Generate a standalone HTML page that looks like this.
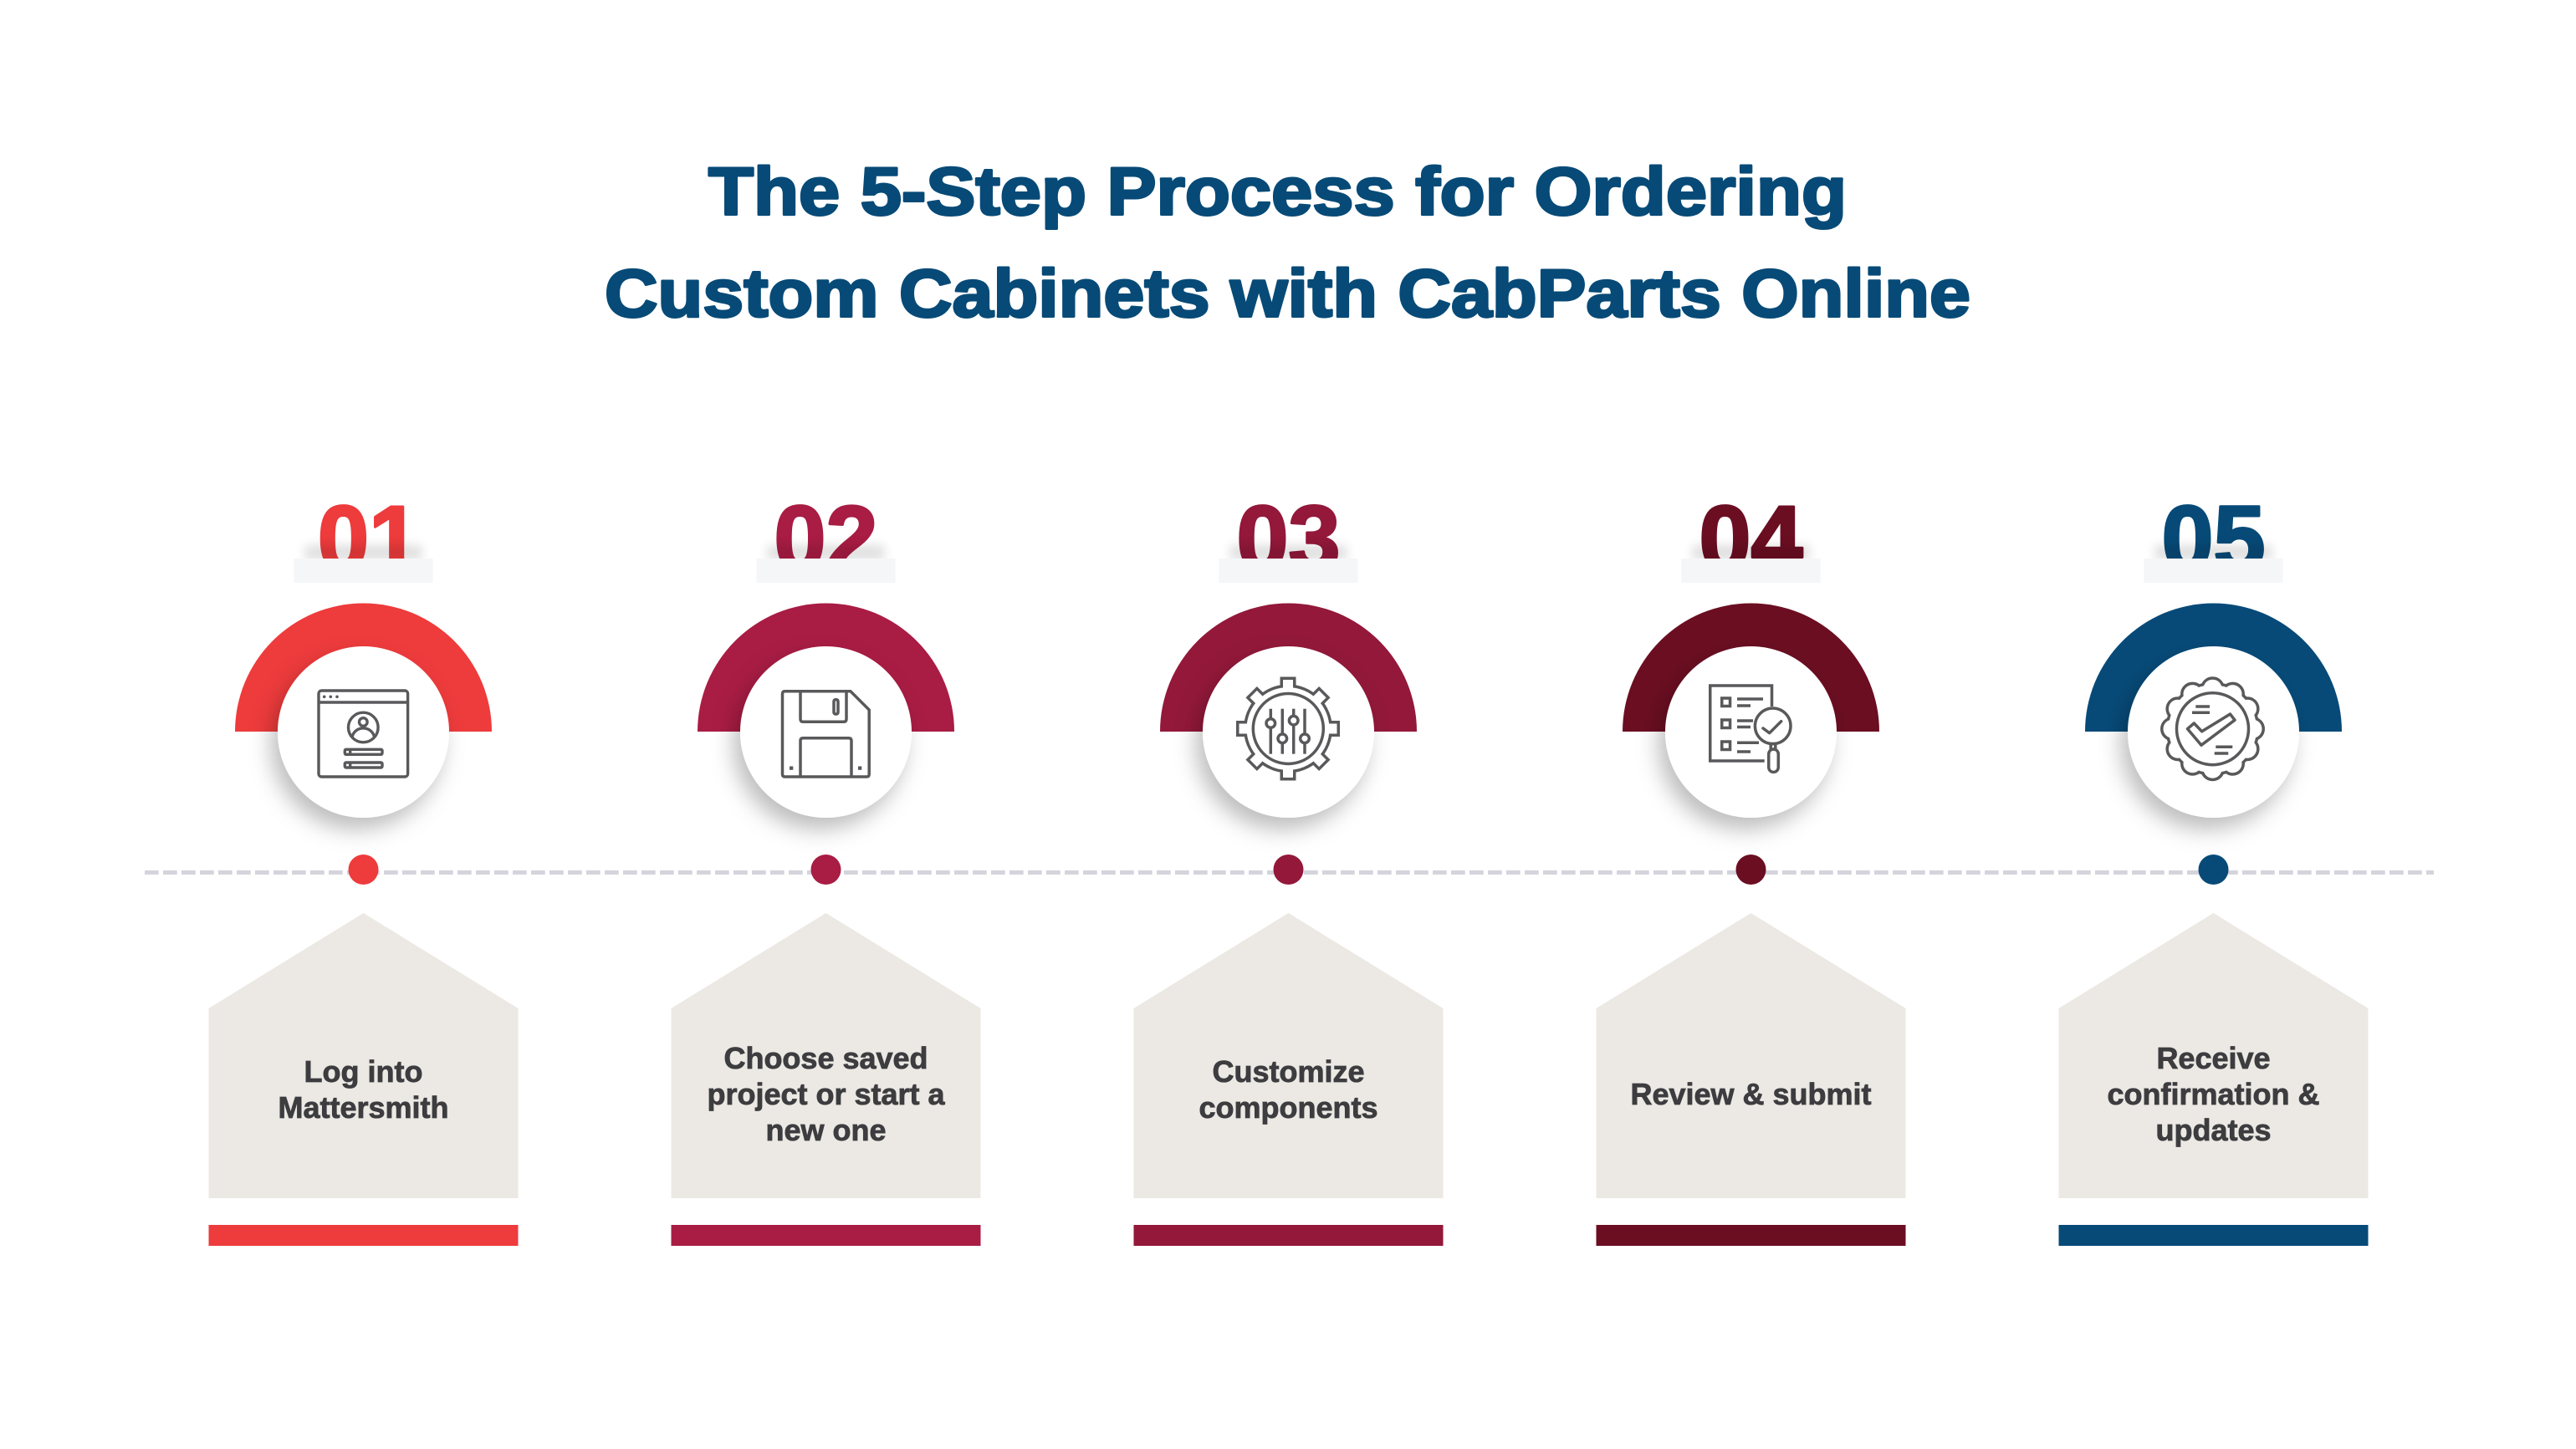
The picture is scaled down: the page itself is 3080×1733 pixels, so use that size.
<!DOCTYPE html>
<html><head><meta charset="utf-8"><style>
html,body{margin:0;padding:0;background:#fff;}
svg{display:block;}
text{font-family:"Liberation Sans",Arial,sans-serif;font-weight:bold;}
</style></head><body>
<svg width="3080" height="1733" viewBox="0 0 3080 1733" xmlns="http://www.w3.org/2000/svg">
<defs>
<filter id="sh" x="-40%" y="-40%" width="180%" height="180%">
<feDropShadow dx="-8" dy="14" stdDeviation="13" flood-color="#000" flood-opacity="0.26"/>
</filter>
<filter id="bl" x="-50%" y="-100%" width="200%" height="300%"><feGaussianBlur stdDeviation="6"/></filter>
</defs>
<rect width="3080" height="1733" fill="#fff"/>

<!-- Title -->
<g fill="#074a77" stroke="#074a77" stroke-width="3" stroke-linejoin="round">
<text x="847" y="256.5" font-size="81" textLength="1361" lengthAdjust="spacingAndGlyphs">The 5-Step Process for Ordering</text>
<text x="723" y="378.5" font-size="81" textLength="1633" lengthAdjust="spacingAndGlyphs">Custom Cabinets with CabParts Online</text>
</g>

<!-- Numbers -->
<g font-size="110" stroke-width="3" stroke-linejoin="round">
<text x="441" y="682" text-anchor="middle" fill="#ee3b3c" stroke="#ee3b3c">01</text>
<text x="987.5" y="682" text-anchor="middle" fill="#a91c44" stroke="#a91c44" textLength="124" lengthAdjust="spacingAndGlyphs">02</text>
<text x="1540.5" y="682" text-anchor="middle" fill="#93183a" stroke="#93183a" textLength="124" lengthAdjust="spacingAndGlyphs">03</text>
<text x="2093.5" y="682" text-anchor="middle" fill="#6b0e22" stroke="#6b0e22" textLength="124" lengthAdjust="spacingAndGlyphs">04</text>
<text x="2646.5" y="682" text-anchor="middle" fill="#074a78" stroke="#074a78" textLength="124" lengthAdjust="spacingAndGlyphs">05</text>
</g>
<g fill="#000" opacity="0.12" filter="url(#bl)">
<rect x="364.5" y="652" width="140" height="18"/>
<rect x="917.5" y="652" width="140" height="18"/>
<rect x="1470.5" y="652" width="140" height="18"/>
<rect x="2023.5" y="652" width="140" height="18"/>
<rect x="2576.5" y="652" width="140" height="18"/>
</g>
<g fill="#f5f6f8">
<rect x="351.5" y="668" width="166" height="29"/>
<rect x="904.5" y="668" width="166" height="29"/>
<rect x="1457.5" y="668" width="166" height="29"/>
<rect x="2010.5" y="668" width="166" height="29"/>
<rect x="2563.5" y="668" width="166" height="29"/>
</g>

<!-- Arcs -->
<path d="M281 875 A153.5 153.5 0 0 1 588 875 Z" fill="#ee3b3c"/>
<path d="M834 875 A153.5 153.5 0 0 1 1141 875 Z" fill="#a91c44"/>
<path d="M1387 875 A153.5 153.5 0 0 1 1694 875 Z" fill="#93183a"/>
<path d="M1940 875 A153.5 153.5 0 0 1 2247 875 Z" fill="#6b0e22"/>
<path d="M2493 875 A153.5 153.5 0 0 1 2800 875 Z" fill="#074a78"/>

<!-- White circles -->
<g fill="#fff" filter="url(#sh)">
<circle cx="434.5" cy="875.5" r="102.5"/>
<circle cx="987.5" cy="875.5" r="102.5"/>
<circle cx="1540.5" cy="875.5" r="102.5"/>
<circle cx="2093.5" cy="875.5" r="102.5"/>
<circle cx="2646.5" cy="875.5" r="102.5"/>
</g>

<!-- Icon 1: browser login -->
<g fill="none" stroke="#59595b" stroke-width="3.4">
<rect x="381" y="826" width="106.6" height="103" rx="3.5"/>
<line x1="381" y1="840" x2="487.6" y2="840"/>
<circle cx="434.3" cy="870" r="17.8"/>
<circle cx="434.3" cy="863.5" r="4.8"/>
<path d="M421 881.5 C424 867.4 444.6 867.4 447.6 881.5"/>
<rect x="412.3" y="896.3" width="44.7" height="6" rx="1.5"/>
<rect x="412.3" y="912" width="44.7" height="6" rx="1.5"/>
<line x1="418.7" y1="896.3" x2="418.7" y2="902.3"/>
<line x1="418.7" y1="912" x2="418.7" y2="918"/>
</g>
<g fill="#59595b">
<circle cx="387.7" cy="833.3" r="1.8"/><circle cx="395.3" cy="833.3" r="1.8"/><circle cx="403" cy="833.3" r="1.8"/>
</g>

<!-- Icon 2: floppy -->
<g transform="translate(877,765)">
<g fill="none" stroke="#59595b" stroke-width="3.5" stroke-linejoin="round">
<path d="M61.5 61.8 H140 L162.2 84 V161 Q162.2 164 159.2 164 H61.5 Q58.5 164 58.5 161 V64.8 Q58.5 61.8 61.5 61.8 Z"/>
<path d="M80 61.8 V95 Q80 98.3 83.3 98.3 H131.7 Q135 98.3 135 95 V61.8"/>
<rect x="120" y="71.7" width="5" height="17.3" rx="2"/>
<path d="M80 164 V121 Q80 117.8 83.2 117.8 H137.8 Q141 117.8 141 121 V164"/>
</g>
<rect x="67" y="151.5" width="4.3" height="4.3" fill="#59595b"/>
<rect x="149" y="151.5" width="4.3" height="4.3" fill="#59595b"/>
</g>

<!-- Icon 3: gear with sliders -->
<g transform="translate(1430,765)">
<g fill="#59595b" stroke="#59595b" stroke-width="7">
<circle cx="110" cy="106.5" r="49.5"/>
<g transform="translate(110,106.5)">
<rect x="-6" y="-58.5" width="12" height="14"/>
<rect x="-6" y="-58.5" width="12" height="14" transform="rotate(45)"/>
<rect x="-6" y="-58.5" width="12" height="14" transform="rotate(90)"/>
<rect x="-6" y="-58.5" width="12" height="14" transform="rotate(135)"/>
<rect x="-6" y="-58.5" width="12" height="14" transform="rotate(180)"/>
<rect x="-6" y="-58.5" width="12" height="14" transform="rotate(225)"/>
<rect x="-6" y="-58.5" width="12" height="14" transform="rotate(270)"/>
<rect x="-6" y="-58.5" width="12" height="14" transform="rotate(315)"/>
</g>
</g>
<g fill="#fff">
<circle cx="110" cy="106.5" r="49.5"/>
<g transform="translate(110,106.5)">
<rect x="-6" y="-58.5" width="12" height="14"/>
<rect x="-6" y="-58.5" width="12" height="14" transform="rotate(45)"/>
<rect x="-6" y="-58.5" width="12" height="14" transform="rotate(90)"/>
<rect x="-6" y="-58.5" width="12" height="14" transform="rotate(135)"/>
<rect x="-6" y="-58.5" width="12" height="14" transform="rotate(180)"/>
<rect x="-6" y="-58.5" width="12" height="14" transform="rotate(225)"/>
<rect x="-6" y="-58.5" width="12" height="14" transform="rotate(270)"/>
<rect x="-6" y="-58.5" width="12" height="14" transform="rotate(315)"/>
</g>
</g>
<g fill="none" stroke="#59595b" stroke-width="3.5">
<circle cx="110.3" cy="106.5" r="42"/>
<line x1="89.3" y1="82.7" x2="89.3" y2="136.7"/>
<line x1="103.3" y1="82.7" x2="103.3" y2="136.7"/>
<line x1="116.7" y1="82.7" x2="116.7" y2="136.7"/>
<line x1="130" y1="82.7" x2="130" y2="136.7"/>
</g>
<g fill="#fff" stroke="#59595b" stroke-width="3.5">
<circle cx="89.3" cy="100" r="5.3"/>
<circle cx="103.3" cy="118.3" r="5.3"/>
<circle cx="116.7" cy="96.7" r="5.3"/>
<circle cx="130" cy="118.3" r="5.3"/>
</g>
</g>

<!-- Icon 4: checklist with magnifier -->
<g transform="translate(1983,765)" fill="none" stroke="#59595b" stroke-width="3.5">
<path d="M126.7 145 H61.75 V55 H135.5 V80"/>
<rect x="75.75" y="70" width="9.8" height="9.5"/>
<rect x="75.75" y="96" width="9.8" height="9.5"/>
<rect x="75.75" y="122" width="9.8" height="9.5"/>
<line x1="94" y1="71" x2="125" y2="71"/>
<line x1="94" y1="79" x2="110" y2="79"/>
<line x1="94" y1="97" x2="113" y2="97"/>
<line x1="94" y1="104.5" x2="110" y2="104.5"/>
<line x1="94" y1="123.3" x2="120" y2="123.3"/>
<line x1="94" y1="134" x2="110" y2="134"/>
<circle cx="136.7" cy="103.3" r="21.3" fill="#fff"/>
<polyline points="125,106 132.7,111.7 146.7,97.7" stroke-linejoin="round" stroke-linecap="round"/>
<rect x="134.2" y="124.6" width="5.6" height="6.5"/>
<rect x="131.75" y="131" width="11.5" height="27.5" rx="5.75"/>
</g>

<!-- Icon 5: badge check -->
<g transform="translate(2536,765)">
<g fill="#59595b" stroke="#59595b" stroke-width="7">
<circle cx="109.5" cy="106.7" r="52.5"/>
<circle cx="109.5" cy="58.7" r="11"/><circle cx="133.5" cy="65.13" r="11"/><circle cx="151.07" cy="82.7" r="11"/>
<circle cx="157.5" cy="106.7" r="11"/><circle cx="151.07" cy="130.7" r="11"/><circle cx="133.5" cy="148.27" r="11"/>
<circle cx="109.5" cy="154.7" r="11"/><circle cx="85.5" cy="148.27" r="11"/><circle cx="67.93" cy="130.7" r="11"/>
<circle cx="61.5" cy="106.7" r="11"/><circle cx="67.93" cy="82.7" r="11"/><circle cx="85.5" cy="65.13" r="11"/>
</g>
<g fill="#fff">
<circle cx="109.5" cy="106.7" r="52.5"/>
<circle cx="109.5" cy="58.7" r="11"/><circle cx="133.5" cy="65.13" r="11"/><circle cx="151.07" cy="82.7" r="11"/>
<circle cx="157.5" cy="106.7" r="11"/><circle cx="151.07" cy="130.7" r="11"/><circle cx="133.5" cy="148.27" r="11"/>
<circle cx="109.5" cy="154.7" r="11"/><circle cx="85.5" cy="148.27" r="11"/><circle cx="67.93" cy="130.7" r="11"/>
<circle cx="61.5" cy="106.7" r="11"/><circle cx="67.93" cy="82.7" r="11"/><circle cx="85.5" cy="65.13" r="11"/>
</g>
<g fill="none" stroke="#59595b" stroke-width="3.5" stroke-linejoin="round">
<circle cx="109.5" cy="106.7" r="43"/>
<polygon points="79.5,106.7 87.3,100 96.7,109.8 130.5,89 136,96.2 96,126.2"/>
<line x1="89.3" y1="80" x2="106" y2="80"/>
<line x1="85" y1="87.3" x2="106" y2="87.3"/>
<line x1="113.3" y1="128.3" x2="133.3" y2="128.3"/>
<line x1="111.7" y1="136" x2="128.3" y2="136"/>
</g>
</g>

<!-- Dashed timeline -->
<line x1="173" y1="1043.5" x2="2910" y2="1043.5" stroke="#d3d4dc" stroke-width="5" stroke-dasharray="16.7 5.3"/>
<circle cx="434.5" cy="1040" r="18" fill="#ee3b3c"/>
<circle cx="987.5" cy="1040" r="18" fill="#a91c44"/>
<circle cx="1540.5" cy="1040" r="18" fill="#93183a"/>
<circle cx="2093.5" cy="1040" r="18" fill="#6b0e22"/>
<circle cx="2646.5" cy="1040" r="18" fill="#074a78"/>

<!-- Houses -->
<g fill="#ece9e4">
<polygon points="249.5,1433 249.5,1206 434.5,1092 619.5,1206 619.5,1433"/>
<polygon points="802.5,1433 802.5,1206 987.5,1092 1172.5,1206 1172.5,1433"/>
<polygon points="1355.5,1433 1355.5,1206 1540.5,1092 1725.5,1206 1725.5,1433"/>
<polygon points="1908.5,1433 1908.5,1206 2093.5,1092 2278.5,1206 2278.5,1433"/>
<polygon points="2461.5,1433 2461.5,1206 2646.5,1092 2831.5,1206 2831.5,1433"/>
</g>

<!-- Bars -->
<rect x="249.5" y="1465" width="370" height="25" fill="#ee3b3c"/>
<rect x="802.5" y="1465" width="370" height="25" fill="#a91c44"/>
<rect x="1355.5" y="1465" width="370" height="25" fill="#93183a"/>
<rect x="1908.5" y="1465" width="370" height="25" fill="#6b0e22"/>
<rect x="2461.5" y="1465" width="370" height="25" fill="#074a78"/>

<!-- Step labels -->
<g font-size="36" fill="#3d3d40" stroke="#3d3d40" stroke-width="0.8" text-anchor="middle">
<text x="434.5" y="1294">Log into</text>
<text x="434.5" y="1337">Mattersmith</text>
<text x="987.5" y="1278">Choose saved</text>
<text x="987.5" y="1321">project or start a</text>
<text x="987.5" y="1364">new one</text>
<text x="1540.5" y="1294">Customize</text>
<text x="1540.5" y="1337">components</text>
<text x="2093.5" y="1321">Review &amp; submit</text>
<text x="2646.5" y="1278">Receive</text>
<text x="2646.5" y="1321">confirmation &amp;</text>
<text x="2646.5" y="1364">updates</text>
</g>
</svg>
</body></html>
